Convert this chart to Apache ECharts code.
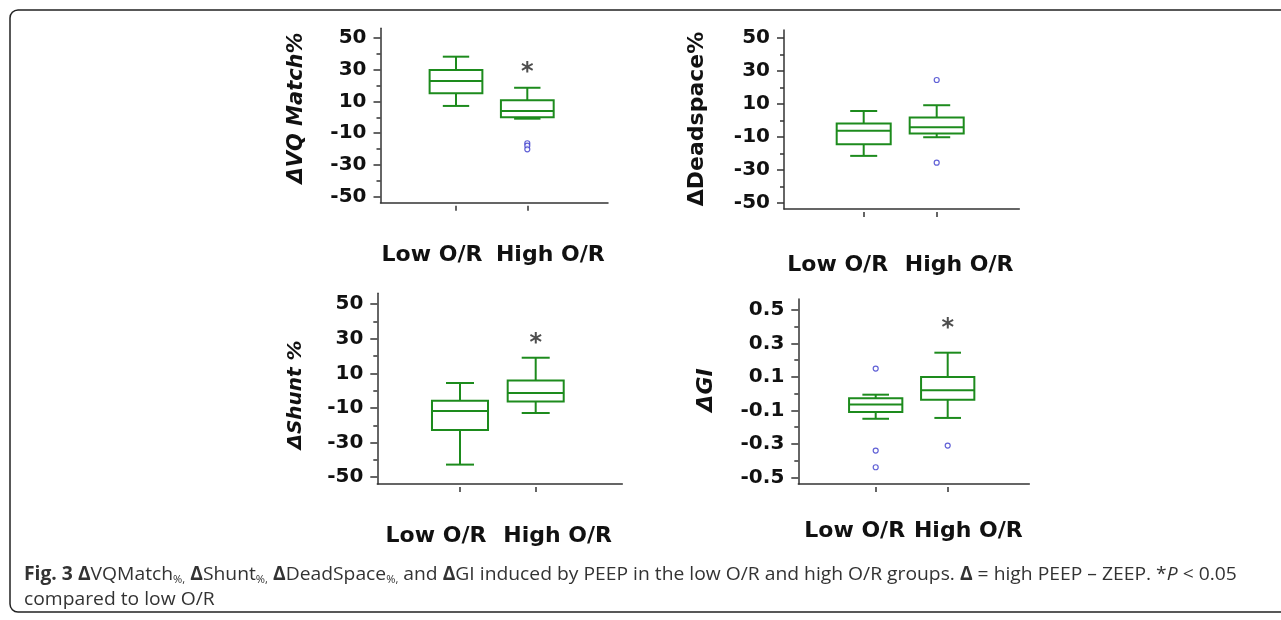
<!DOCTYPE html>
<html>
<head>
<meta charset="utf-8">
<script src="https://cdn.jsdelivr.net/npm/echarts@6.0.0/dist/echarts.min.js"></script>
<style>
html, body { margin: 0; padding: 0; background: #fff; }
#chart { width: 1281px; height: 620px; }
</style>
</head>
<body>
<div id="chart"></div>
<script>
// ---------------- DATA ----------------
const groups = ['Low O/R', 'High O/R'];
// each box: [lower whisker, Q1, median, Q3, upper whisker]
const vqMatchBoxes = [[7.1, 15.0, 22.7, 29.6, 38.0], [-0.9, 0.0, 3.9, 10.6, 18.5]];
const vqMatchOutliers = [['High O/R', -16.3], ['High O/R', -17.8], ['High O/R', -20.1]];
const vqMatchSignificance = [['High O/R', 29.2]];

const deadspaceBoxes = [[-21.3, -14.2, -6.0, -1.7, 5.9], [-10.0, -7.8, -3.9, 1.9, 9.4]];
const deadspaceOutliers = [['High O/R', 24.7], ['High O/R', -25.4]];
const deadspaceSignificance = [];

const shuntBoxes = [[-42.7, -22.7, -11.7, -5.8, 4.4], [-12.9, -6.2, -1.4, 5.8, 19.0]];
const shuntOutliers = [];
const shuntSignificance = [['High O/R', 28.3]];

const giBoxes = [[-0.15, -0.11, -0.064, -0.028, -0.006], [-0.145, -0.036, 0.02, 0.10, 0.245]];
const giOutliers = [['Low O/R', 0.15], ['Low O/R', -0.34], ['Low O/R', -0.44], ['High O/R', -0.31]];
const giSignificance = [['High O/R', 0.40]];

const percentTickLabels = [-50, -30, -10, 10, 30, 50];
const percentMinorTicks = [-40, -20, 0, 20, 40];
const giTickLabels = [-0.5, -0.3, -0.1, 0.1, 0.3, 0.5];
const giMinorTicks = [-0.4, -0.2, 0, 0.2, 0.4];

const yTitles = ['ΔVQ Match%', 'ΔDeadspace%', 'ΔShunt %', 'ΔGI'];
const captionLine1 = '{b|Fig. 3} {d|Δ}VQMatch{s|%,} {d|Δ}Shunt{s|%,} {d|Δ}DeadSpace{s|%,} and {d|Δ}GI induced by PEEP in the low O/R and high O/R groups. {d|Δ} = high PEEP – ZEEP. *{i|P} < 0.05';
const captionLine2 = 'compared to low O/R';

// ---------------- LAYOUT ----------------
const panelData = [
  { boxes: vqMatchBoxes, outliers: vqMatchOutliers, sig: vqMatchSignificance, ticks: percentTickLabels, minor: percentMinorTicks },
  { boxes: deadspaceBoxes, outliers: deadspaceOutliers, sig: deadspaceSignificance, ticks: percentTickLabels, minor: percentMinorTicks },
  { boxes: shuntBoxes, outliers: shuntOutliers, sig: shuntSignificance, ticks: percentTickLabels, minor: percentMinorTicks },
  { boxes: giBoxes, outliers: giOutliers, sig: giSignificance, ticks: giTickLabels, minor: giMinorTicks }
];
const layouts = [
  { axisX: 380.5, top: 28.3, right: 608, axisY: 202.7, min: -53.6, max: 55.8, tick0: 456, tick1: 527.3, labelY: 255, shift: [24, 23], titleX: 297, titleY: 108, titleSize: 21, italic: true },
  { axisX: 784, top: 30, right: 1019.3, axisY: 209, min: -53.5, max: 55.0, tick0: 863.7, tick1: 936.7, labelY: 265, shift: [26, 22.5], titleX: 697, titleY: 119, titleSize: 22, italic: false },
  { axisX: 377.3, top: 293.3, right: 622.3, axisY: 484, min: -53.9, max: 56.2, tick0: 460, tick1: 535.7, labelY: 536.7, shift: [24, 22], titleX: 296, titleY: 395, titleSize: 20, italic: true },
  { axisX: 798.3, top: 299, right: 1029.3, axisY: 484, min: -0.54, max: 0.566, tick0: 875.7, tick1: 947.7, labelY: 531.7, shift: [21, 20.6], titleX: 706, titleY: 390, titleSize: 22, italic: true }
];

const axisColor = '#333';
const boxColor = '#1d8b1d';
const outlierColor = '#3a3acc';

function renderBox(params, api) {
  const idx = api.value(0);
  const lo = api.coord([idx, api.value(1)]);
  const q1 = api.coord([idx, api.value(2)]);
  const med = api.coord([idx, api.value(3)]);
  const q3 = api.coord([idx, api.value(4)]);
  const hi = api.coord([idx, api.value(5)]);
  const band = api.size([1, 0])[0];
  const bw = band * 0.74;
  const cw = bw / 2;
  const x = lo[0];
  const st = { stroke: boxColor, lineWidth: 2, fill: null };
  return {
    type: 'group',
    children: [
      { type: 'line', shape: { x1: x, y1: hi[1], x2: x, y2: q3[1] }, style: st },
      { type: 'line', shape: { x1: x, y1: q1[1], x2: x, y2: lo[1] }, style: st },
      { type: 'line', shape: { x1: x - cw / 2, y1: hi[1], x2: x + cw / 2, y2: hi[1] }, style: st },
      { type: 'line', shape: { x1: x - cw / 2, y1: lo[1], x2: x + cw / 2, y2: lo[1] }, style: st },
      { type: 'rect', shape: { x: x - bw / 2, y: q3[1], width: bw, height: q1[1] - q3[1] }, style: { stroke: boxColor, lineWidth: 2, fill: '#fff' } },
      { type: 'line', shape: { x1: x - bw / 2, y1: med[1], x2: x + bw / 2, y2: med[1] }, style: st }
    ]
  };
}

const grid = [], xAxis = [], yAxis = [], series = [], graphic = [];
const lineStyle = { color: axisColor, width: 1.5 };

layouts.forEach((L, p) => {
  const D = panelData[p];
  const band = L.tick1 - L.tick0;
  const h = L.axisY - L.top;
  grid.push({ left: L.axisX, top: L.top, width: L.right - L.axisX, height: h, containLabel: false, outerBoundsMode: 'none' });
  grid.push({ left: L.tick0 - band / 2, top: L.top, width: band * 2, height: h, containLabel: false, outerBoundsMode: 'none' });

  xAxis.push({
    gridIndex: 2 * p, type: 'value', min: 0, max: 1, position: 'bottom',
    axisLine: { show: true, onZero: false, lineStyle: lineStyle },
    axisTick: { show: false }, axisLabel: { show: false }, splitLine: { show: false }
  });
  xAxis.push({
    gridIndex: 2 * p + 1, type: 'category', boundaryGap: true, position: 'bottom', offset: 3,
    data: groups.map((g, i) => ({
      value: g,
      textStyle: { padding: i === 0 ? [0, 2 * L.shift[0], 0, 0] : [0, 0, 0, 2 * L.shift[1]] }
    })),
    axisLine: { show: false, onZero: false },
    axisTick: { show: true, alignWithLabel: true, interval: 0, length: 5, lineStyle: lineStyle },
    axisLabel: {
      interval: 0, margin: L.labelY - 11 - (L.axisY + 3),
      fontFamily: 'DejaVu Sans', fontWeight: 'bold', fontSize: 22, color: '#111'
    },
    splitLine: { show: false }
  });

  yAxis.push({
    gridIndex: 2 * p, type: 'value', min: L.min, max: L.max, position: 'left',
    axisLine: { show: true, onZero: false, lineStyle: lineStyle },
    axisTick: { show: true, customValues: D.ticks, length: 7, lineStyle: lineStyle },
    axisLabel: { customValues: D.ticks, margin: 14, fontFamily: 'DejaVu Sans', fontWeight: 'bold', fontSize: 20, color: '#111' },
    splitLine: { show: false }
  });
  yAxis.push({
    gridIndex: 2 * p, type: 'value', min: L.min, max: L.max, position: 'left',
    axisLine: { show: false, onZero: false },
    axisTick: { show: true, customValues: D.minor, length: 4, lineStyle: lineStyle },
    axisLabel: { show: false }, splitLine: { show: false }
  });
  yAxis.push({ gridIndex: 2 * p + 1, type: 'value', min: L.min, max: L.max, show: false });

  series.push({
    type: 'custom', xAxisIndex: 2 * p + 1, yAxisIndex: 3 * p + 2,
    data: D.boxes.map((b, i) => [i].concat(b)),
    encode: { x: 0, y: [1, 2, 3, 4, 5] },
    renderItem: renderBox, silent: true
  });
  series.push({
    type: 'scatter', xAxisIndex: 2 * p + 1, yAxisIndex: 3 * p + 2,
    data: D.outliers, symbol: 'circle', symbolSize: 5, silent: true,
    itemStyle: { color: '#fff', borderColor: outlierColor, borderWidth: 1.2 }
  });
  series.push({
    type: 'scatter', xAxisIndex: 2 * p + 1, yAxisIndex: 3 * p + 2,
    data: D.sig, symbol: 'circle', symbolSize: 1, silent: true,
    itemStyle: { color: 'rgba(0,0,0,0)', borderWidth: 0 },
    label: { show: true, position: 'inside', formatter: '*', fontFamily: 'DejaVu Sans', fontWeight: 'bold', fontSize: 24, color: '#222', offset: [0, 2] }
  });

  graphic.push({
    type: 'text', x: L.titleX, y: L.titleY, rotation: Math.PI / 2, silent: true,
    style: {
      text: yTitles[p], align: 'center', verticalAlign: 'middle',
      fontFamily: 'DejaVu Sans', fontWeight: 'bold', fontStyle: L.italic ? 'italic' : 'normal',
      fontSize: L.titleSize, fill: '#111'
    }
  });
});

// frame
graphic.push({
  type: 'rect', silent: true, z: -1,
  shape: { x: 10, y: 10, width: 1300, height: 602, r: 8 },
  style: { fill: 'transparent', stroke: '#222', lineWidth: 1.5 }
});

const capFont = { fontFamily: 'Open Sans', fontSize: 19, fill: '#333' };
graphic.push({
  type: 'text', x: 24, y: 562, scaleX: 1.015, silent: true,
  style: Object.assign({}, capFont, {
    text: captionLine1 + '\n' + captionLine2,
    lineHeight: 25, verticalAlign: 'top', align: 'left',
    rich: {
      b: Object.assign({}, capFont, { fontWeight: 'bold', lineHeight: 25 }),
      d: Object.assign({}, capFont, { fontWeight: 'bold', lineHeight: 25 }),
      s: Object.assign({}, capFont, { fontSize: 11, verticalAlign: 'bottom', lineHeight: 25, padding: [0, 0, 2, 0] }),
      i: Object.assign({}, capFont, { fontStyle: 'italic', lineHeight: 25 })
    }
  })
});

const chart = echarts.init(document.getElementById('chart'), null, { renderer: 'canvas', width: 1281, height: 620 });
chart.setOption({
  animation: false,
  backgroundColor: '#fff',
  grid: grid, xAxis: xAxis, yAxis: yAxis, series: series, graphic: graphic
});
</script>
</body>
</html>
